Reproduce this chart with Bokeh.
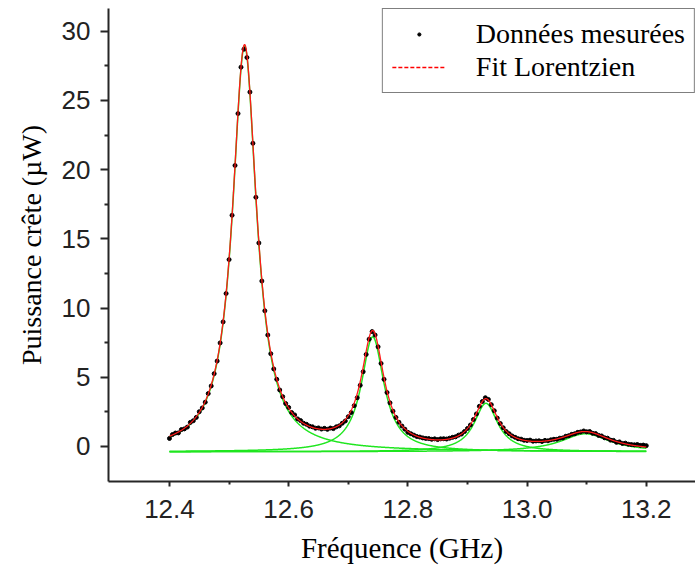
import numpy as np
from bokeh.plotting import figure
from bokeh.models import (FixedTicker, Range1d, Legend, LegendItem,
                          PrintfTickFormatter)
from bokeh.embed import file_html
from bokeh.resources import INLINE

# ---- data -------------------------------------------------------------
# measured frequencies (GHz): regular sweep 12.400 .. 13.200, step 0.005
freq_ghz = [round(12.400 + 0.005 * i, 3) for i in range(161)]

power_uw = [
    0.58, 0.86, 0.97, 0.98, 1.22, 1.27, 1.40, 1.74, 1.86, 2.10,
    2.51, 2.78, 3.20, 3.82, 4.37, 5.26, 6.17, 7.48, 9.00, 11.05,
    13.50, 16.70, 20.30, 24.05, 27.40, 28.70, 28.10, 25.60, 21.90, 18.00,
    14.70, 11.95, 9.80, 8.05, 6.70, 5.60, 4.85, 4.08, 3.60, 3.10,
    2.82, 2.45, 2.28, 1.99, 1.87, 1.68, 1.60, 1.47, 1.42, 1.32,
    1.34, 1.26, 1.31, 1.24, 1.33, 1.29, 1.42, 1.49, 1.68, 1.84,
    2.15, 2.45, 2.95, 3.52, 4.42, 5.40, 6.65, 7.75, 8.30, 8.05,
    7.20, 6.00, 4.85, 3.90, 3.15, 2.55, 2.10, 1.75, 1.48, 1.25,
    1.02, 0.92, 0.82, 0.72, 0.68, 0.62, 0.58, 0.57, 0.52, 0.55,
    0.50, 0.55, 0.56, 0.54, 0.60, 0.66, 0.70, 0.82, 0.90, 1.08,
    1.30, 1.55, 1.95, 2.35, 2.90, 3.25, 3.52, 3.40, 3.02, 2.58,
    2.05, 1.66, 1.35, 1.08, 0.92, 0.76, 0.66, 0.56, 0.53, 0.45,
    0.43, 0.46, 0.38, 0.40, 0.41, 0.36, 0.44, 0.41, 0.48, 0.52,
    0.52, 0.60, 0.62, 0.74, 0.78, 0.88, 0.92, 1.02, 1.05, 1.12,
    1.06, 1.08, 0.95, 0.93, 0.80, 0.76, 0.63, 0.60, 0.46, 0.44,
    0.30, 0.33, 0.22, 0.24, 0.16, 0.14, 0.12, 0.14, 0.08, 0.10,
    0.06,
]

# Lorentzian fit parameters (4 peaks + constant offset)
peak_center_ghz = [12.526, 12.741, 12.931, 13.098]
peak_height_uw = [29.3, 8.3, 3.5, 1.3]
peak_hwhm_ghz = [0.0246, 0.023, 0.024, 0.05]
fit_offset_uw = -0.38

x_ticks = [12.4, 12.6, 12.8, 13.0, 13.2]
x_minor_ticks = [12.5, 12.7, 12.9, 13.1]
y_ticks = [0, 5, 10, 15, 20, 25, 30]
y_minor_ticks = [2.5, 7.5, 12.5, 17.5, 22.5, 27.5]

# ---- fit curves -------------------------------------------------------
fit_x = np.linspace(12.4, 13.2, 1601)


def lorentz(x, c, a, g):
    return a * g ** 2 / ((x - c) ** 2 + g ** 2)


params = list(zip(peak_center_ghz, peak_height_uw, peak_hwhm_ghz))
components = [fit_offset_uw + lorentz(fit_x, c, a, g) for c, a, g in params]
fit_y = fit_offset_uw + sum(lorentz(fit_x, c, a, g) for c, a, g in params)

# ---- figure -----------------------------------------------------------
p = figure(width=695, height=566,
           x_range=Range1d(12.2977, 13.2826), y_range=Range1d(-2.53, 31.64),
           output_backend="svg", toolbar_location=None,
           min_border_left=108, min_border_right=0, min_border_top=8,
           min_border_bottom=0)
p.grid.visible = False
p.outline_line_color = None
p.background_fill_color = "white"
p.border_fill_color = "white"

axis_col = "#262626"
for ax in (p.xaxis[0], p.yaxis[0]):
    ax.axis_line_color = axis_col
    ax.axis_line_width = 2
    ax.major_tick_line_color = axis_col
    ax.minor_tick_line_color = axis_col
    ax.major_tick_line_width = 2
    ax.minor_tick_line_width = 2
    ax.major_tick_in = 0
    ax.minor_tick_in = 0
    ax.major_label_text_font = "Liberation Sans"
    ax.major_label_text_font_size = "26px"
    ax.major_label_text_color = "#222222"
    ax.axis_label_text_font = "Liberation Serif"
    ax.axis_label_text_font_style = "normal"
    ax.axis_label_text_color = "black"

p.xaxis.ticker = FixedTicker(ticks=x_ticks, minor_ticks=x_minor_ticks)
p.xaxis.formatter = PrintfTickFormatter(format="%.1f")
p.xaxis.major_tick_out = 5
p.xaxis.minor_tick_out = 3
p.xaxis.major_label_standoff = 13
p.xaxis.axis_label = "Fréquence (GHz)"
p.xaxis.axis_label_text_font_size = "29px"
p.xaxis.axis_label_standoff = 11

p.yaxis.ticker = FixedTicker(ticks=y_ticks, minor_ticks=y_minor_ticks)
p.yaxis.major_tick_out = 8
p.yaxis.minor_tick_out = 4
p.yaxis.major_label_standoff = 10
p.yaxis.axis_label = "Puissance crête (µW)"
p.yaxis.axis_label_text_font_size = "28px"
p.yaxis.axis_label_standoff = 12

for comp in components:
    p.line(fit_x, comp, line_color="#1fe61f", line_width=1.5)

dots = p.scatter(freq_ghz, power_uw, marker="circle", size=4,
                 fill_color="black", line_color="black")
p.line(fit_x, fit_y, line_color="#ff1a1a", line_width=1.3)

# legend-only sample of the dashed red style (NaN data: nothing drawn in plot)
legend_dash = p.line([np.nan], [np.nan], line_color="#ff0000",
                     line_dash="4 2", line_width=1.5)

legend = Legend(items=[LegendItem(label="Données mesurées", renderers=[dots]),
                       LegendItem(label="Fit Lorentzien", renderers=[legend_dash])],
                location="top_right", margin=0, padding=9, spacing=1,
                glyph_width=54, glyph_height=8, label_height=30,
                label_standoff=30,
                label_text_font="Liberation Serif", label_text_font_size="28px",
                label_text_color="black",
                border_line_color="black", border_line_width=1,
                background_fill_color="white", background_fill_alpha=1)
p.add_layout(legend)

open("out.html", "w").write(file_html(p, INLINE))
